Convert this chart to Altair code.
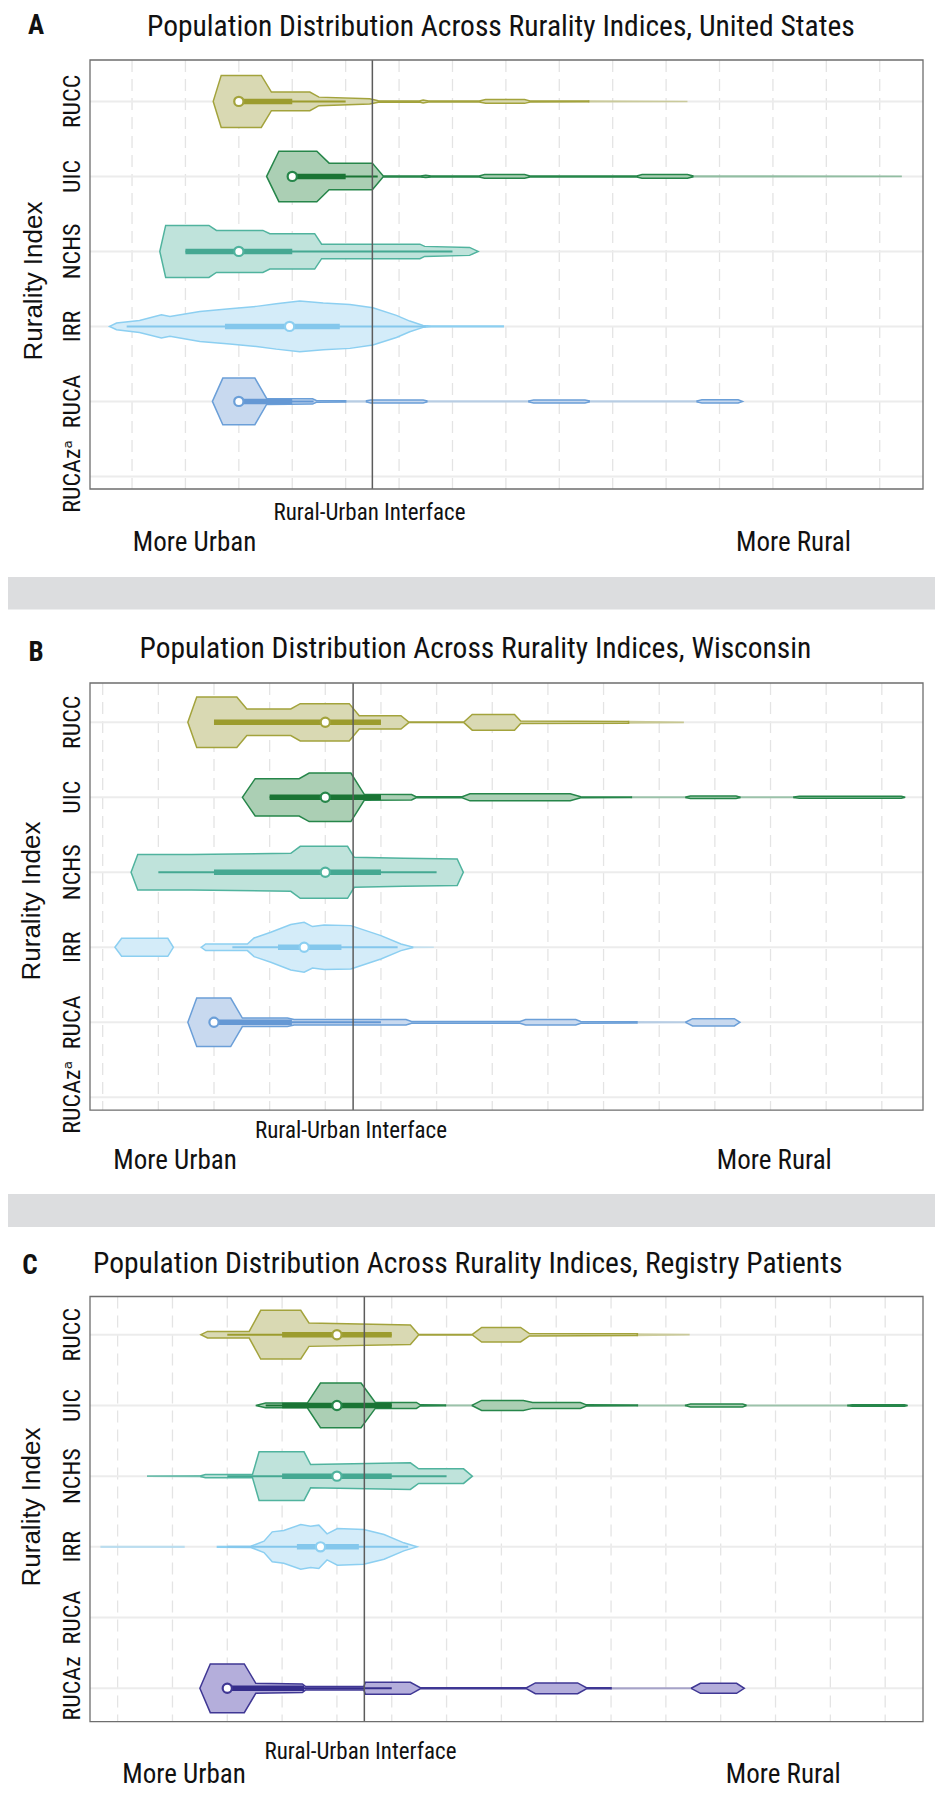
import altair as alt
import pandas as pd

INDICES = ["RUCC", "UIC", "NCHS", "IRR", "RUCA", "RUCAz"]
FILLS = ["#d9d9b3", "#abcfb4", "#bfe3db", "#d4ecf9", "#c8d9ef", "#b4aedb"]
STROKES = ["#a3a33c", "#26864a", "#50b39e", "#8ccff1", "#6b9fd8", "#3f3794"]
BOXC = ["#9c9c2e", "#1a7434", "#45a892", "#84c7ec", "#6598d4", "#352d8b"]

LABELS_AB = ["RUCC", "UIC", "NCHS", "IRR", "RUCA", "RUCAz\u1d43"]
LABELS_C = ["RUCC", "UIC", "NCHS", "IRR", "RUCA", "RUCAz"]

# violin outlines: index -> list of (opacity, [(x, half-width), ...]) segments
A_VIOL = {
    "RUCC": [(1, [(2.52, 0), (2.67, .347), (3.42, .347), (3.61, .124), (4.33, .124), (4.50, .057), (5.45, .036),
                  (5.61, .010), (6.38, .007), (6.45, .02), (6.55, .007), (7.5, .007), (7.62, .026), (8.35, .026),
                  (8.45, .007), (9.55, .005)]),
             (0.45, [(9.55, .005), (11.4, 0)])],
    "UIC": [(1, [(3.52, 0), (3.75, .337), (4.46, .337), (4.69, .177), (5.5, .177), (5.70, .008), (6.4, .007),
                 (6.5, .016), (6.6, .007), (7.5, .007), (7.6, .024), (8.35, .024), (8.45, .007), (10.45, .007),
                 (10.55, .024), (11.4, .024), (11.5, .006)]),
            (0.45, [(11.5, .006), (15.4, .002)])],
    "NCHS": [(1, [(1.52, 0), (1.63, .347), (2.44, .347), (2.58, .28), (3.45, .28), (3.58, .236), (4.42, .236),
                  (4.55, .097), (6.39, .097), (6.48, .067), (7.32, .053), (7.48, 0)])],
    "IRR": [(1, [(0.58, 0), (0.71, .044), (1.14, .08), (1.55, .156), (1.71, .133), (2.27, .2), (2.83, .236),
                 (3.33, .267), (3.70, .303), (4.14, .337), (4.58, .311), (5.08, .293), (5.51, .249), (5.95, .147),
                 (6.2, .071), (6.45, .013), (6.6, .006), (7.95, .004)])],
    "RUCA": [(1, [(2.505, 0), (2.70, .311), (3.30, .311), (3.52, .04), (4.38, .036), (4.45, .012), (5.0, .008)]),
             (0.4, [(5.0, .006), (5.39, .006)]),
             (1, [(5.39, .008), (5.47, .02), (6.45, .02), (6.52, .007)]),
             (0.4, [(6.52, .006), (8.43, .006)]),
             (1, [(8.43, .007), (8.52, .02), (9.48, .02), (9.56, .007)]),
             (0.4, [(9.56, .006), (11.58, .006)]),
             (1, [(11.58, .007), (11.67, .022), (12.35, .022), (12.43, 0)])],
}
B_VIOL = {
    "RUCC": [(1, [(2.53, 0), (2.69, .337), (3.41, .337), (3.59, .177), (4.38, .177), (4.55, .249), (5.43, .249),
                  (5.61, .089), (6.36, .089), (6.50, .004), (7.49, .004), (7.64, .105), (8.40, .105), (8.51, .016),
                  (10.45, .012)]),
             (0.5, [(10.45, .01), (11.43, .002)])],
    "UIC": [(1, [(3.51, 0), (3.74, .249), (4.53, .249), (4.71, .324), (5.46, .324), (5.70, .04), (6.55, .036),
                 (6.63, .007), (7.46, .007), (7.6, .047), (9.4, .047), (9.59, .007), (10.5, .004)]),
            (0.4, [(10.5, .004), (11.48, .004)]),
            (1, [(11.48, .004), (11.56, .016), (12.38, .016), (12.45, .004)]),
            (0.4, [(12.45, .004), (13.42, .004)]),
            (1, [(13.42, .004), (13.52, .013), (15.35, .013), (15.42, 0)])],
    "NCHS": [(1, [(1.51, 0), (1.63, .236), (2.59, .236), (4.38, .253), (4.55, .347), (5.40, .347), (5.52, .2),
                  (6.41, .187), (7.37, .177), (7.48, 0)])],
    "IRR": [(1, [(1.22, 0), (1.34, .12), (2.17, .12), (2.27, 0)]),
            (1, [(2.77, 0), (2.85, .044), (3.60, .044), (3.72, .124), (4.02, .2), (4.38, .303), (4.62, .333),
                 (4.77, .276), (4.98, .297), (5.46, .289), (6.0, .156), (6.36, .044), (6.57, .004)]),
            (0.4, [(6.57, .004), (6.95, 0)])],
    "RUCA": [(1, [(2.53, 0), (2.69, .324), (3.30, .324), (3.51, .057), (4.32, .057), (4.44, .036), (6.45, .036),
                  (6.55, .012), (8.5, .012), (8.6, .036), (9.5, .036), (9.59, .012), (10.6, .008)]),
             (0.4, [(10.6, .006), (11.48, .004)]),
             (1, [(11.48, .004), (11.6, .048), (12.35, .048), (12.45, 0)])],
}
C_VIOL = {
    "RUCC": [(1, [(2.52, 0), (2.64, .047), (3.40, .047), (3.61, .344), (4.34, .344), (4.49, .165), (6.34, .137),
                  (6.49, .004), (7.47, .004), (7.64, .103), (8.35, .103), (8.51, .017), (10.48, .012)]),
             (0.45, [(10.48, .01), (11.42, .002)])],
    "UIC": [(1, [(3.52, 0), (3.70, .033), (4.46, .033), (4.70, .316), (5.44, .316), (5.70, .042), (6.45, .042),
                 (6.52, .008), (6.98, .006)]),
            (0.4, [(6.98, .004), (7.47, .004)]),
            (1, [(7.47, .004), (7.64, .071), (8.40, .071), (8.57, .042), (9.44, .042), (9.55, .008), (10.48, .006)]),
            (0.4, [(10.48, .004), (11.36, .004)]),
            (1, [(11.36, .004), (11.45, .021), (12.4, .021), (12.46, .004)]),
            (0.4, [(12.46, .004), (14.32, .004)]),
            (1, [(14.32, .004), (14.4, .01), (15.35, .01), (15.41, 0)])],
    "NCHS": [(0.8, [(1.55, .002), (2.52, .006)]),
             (1, [(2.52, .006), (2.6, .024), (3.46, .024), (3.58, .344), (4.40, .344), (4.52, .165), (6.34, .188),
                  (6.49, .103), (7.31, .103), (7.47, 0)])],
    "IRR": [(0.5, [(0.70, .004), (2.21, .004)]),
            (1, [(2.82, .004), (3.43, .008), (3.67, .08), (3.82, .212), (4.03, .231), (4.34, .315), (4.52, .293),
                 (4.67, .307), (4.82, .184), (5.01, .259), (5.49, .245), (5.86, .174), (6.22, .057), (6.46, 0)])],
    "RUCAz": [(1, [(2.50, 0), (2.69, .344), (3.31, .344), (3.52, .071), (4.37, .061), (4.43, .024), (5.49, .024),
                   (5.52, .085), (6.34, .085), (6.52, .008), (8.46, .008), (8.62, .076), (9.39, .076), (9.55, .008),
                   (10.0, .008)]),
              (0.4, [(10.0, .006), (11.47, .004)]),
              (1, [(11.47, .004), (11.63, .071), (12.29, .071), (12.43, 0)])],
}

# box summaries: index -> (q1, q3, median, whisker low, whisker high)
A_BOX = {"RUCC": (3.0, 4.0, 3.0, 3.0, 5.0), "UIC": (4.0, 5.0, 4.0, 4.0, 5.6), "NCHS": (2.0, 4.0, 3.0, 2.0, 7.0),
         "IRR": (2.74, 4.89, 3.95, 0.9, 6.5), "RUCA": (3.0, 4.0, 3.0, 3.0, 4.4)}
B_BOX = {"RUCC": (3.0, 6.0, 5.0, 3.0, 6.0), "UIC": (4.0, 6.0, 5.0, 4.0, 6.0), "NCHS": (3.0, 6.0, 5.0, 2.0, 7.0),
         "IRR": (4.15, 5.29, 4.62, 3.33, 6.3), "RUCA": (3.0, 4.4, 3.0, 3.0, 6.0)}
C_BOX = {"RUCC": (4.0, 6.0, 5.0, 3.0, 6.0), "UIC": (4.0, 6.0, 5.0, 3.7, 6.0), "NCHS": (4.0, 6.0, 5.0, 3.0, 7.0),
         "IRR": (4.27, 5.40, 4.70, 3.0, 6.3), "RUCAz": (3.0, 4.4, 3.0, 3.0, 6.0)}

GRID_X = list(range(1, 16))
INTERFACE = 5.5

TITLE_FONT = "Roboto Condensed, DejaVu Sans Condensed, Liberation Sans Narrow, sans-serif"
LABEL_FONT = "Liberation Sans, Arial, sans-serif"
ONE = pd.DataFrame({"k": [0]})
W, H = 833, 1662
PAD = {"top": 52, "bottom": 68, "left": 82, "right": 12}


def violin_df(viol):
    rows = []
    for name, segs in viol.items():
        r = INDICES.index(name)
        for si, (op, pts) in enumerate(segs):
            for x, w in pts:
                rows.append(dict(index=name, row=r, seg=f"{name}-{si}", x=x, lo=r - w, hi=r + w, op=op,
                                 fillc=FILLS[r], strokec=STROKES[r]))
    return pd.DataFrame(rows)


def box_df(box):
    rows = []
    for name, (q1, q3, med, wlo, whi) in box.items():
        r = INDICES.index(name)
        rows.append(dict(index=name, row=r, q1=q1, q3=q3, med=med, wlo=wlo, whi=whi,
                         boxc=BOXC[r], strokec=STROKES[r]))
    return pd.DataFrame(rows)


def text(s, x, y, size, font=TITLE_FONT, weight="normal", align="center", angle=0):
    return alt.Chart(ONE).mark_text(text=s, font=font, fontSize=size, fontWeight=weight, align=align,
                                    baseline="alphabetic", color="#111111", angle=angle).encode(
        x=alt.value(x), y=alt.value(y))


def rect(x1, x2, y1, y2, color):
    return alt.Chart(ONE).mark_rect(color=color).encode(
        x=alt.value(x1), x2=alt.value(x2), y=alt.value(y1), y2=alt.value(y2))


def panel(viol, box, xd, yd, labels, row0_px, row_px):
    # y scale spans the whole drawing height; the panel occupies the part given by yd
    ys = alt.Scale(domain=[-row0_px / row_px, (H - row0_px) / row_px], reverse=True, nice=False, zero=False)
    xs = alt.Scale(domain=xd, nice=False, zero=False)

    def X(f):
        return alt.X(f, scale=xs, axis=None)

    def Y(f):
        return alt.Y(f, scale=ys, axis=None)

    vdf = violin_df(viol)
    bdf = box_df(box)
    gdf = pd.DataFrame({"g": GRID_X, "y0": yd[0], "y1": yd[1]})
    hdf = pd.DataFrame({"row": list(range(6)), "label": labels, "x0": xd[0], "x1": xd[1]})
    fdf = pd.DataFrame({"x0": [xd[0]], "x1": [xd[1]], "y0": [yd[0]], "y1": [yd[1]], "xi": [INTERFACE]})

    vgrid = alt.Chart(gdf).mark_rule(strokeDash=[12, 7], color="#e4e4e4", strokeWidth=1.3).encode(
        x=X("g:Q"), y=Y("y0:Q"), y2="y1:Q")
    hgrid = alt.Chart(hdf).mark_rule(color="#ececec", strokeWidth=2).encode(
        x=X("x0:Q"), x2="x1:Q", y=Y("row:Q"))
    area = alt.Chart(vdf).mark_area(strokeWidth=1.5, interpolate="linear").encode(
        x=X("x:Q"), y=Y("lo:Q"), y2="hi:Q",
        fill=alt.Fill("fillc:N", scale=None),
        stroke=alt.Stroke("strokec:N", scale=None),
        opacity=alt.Opacity("op:Q", scale=None),
        detail="seg:N")
    whisk = alt.Chart(bdf).mark_rule(strokeWidth=2).encode(
        x=X("wlo:Q"), x2="whi:Q", y=Y("row:Q"), color=alt.Color("boxc:N", scale=None))
    boxr = alt.Chart(bdf).mark_rule(strokeWidth=5.5).encode(
        x=X("q1:Q"), x2="q3:Q", y=Y("row:Q"), color=alt.Color("boxc:N", scale=None))
    med = alt.Chart(bdf).mark_point(filled=True, fill="white", size=85, strokeWidth=2.2, opacity=1).encode(
        x=X("med:Q"), y=Y("row:Q"), stroke=alt.Stroke("strokec:N", scale=None))
    iface = alt.Chart(fdf).mark_rule(color="#5c5c5c", strokeWidth=1.5).encode(
        x=X("xi:Q"), y=Y("y0:Q"), y2="y1:Q")
    frame = alt.Chart(fdf).mark_rect(fillOpacity=0, stroke="#6e6e6e", strokeWidth=1.3).encode(
        x=X("x0:Q"), x2="x1:Q", y=Y("y0:Q"), y2="y1:Q")
    ylab = alt.Chart(hdf).mark_text(angle=270, align="center", baseline="alphabetic", font=TITLE_FONT,
                                    fontSize=24, color="#111111").encode(
        x=alt.value(-10.5), y=Y("row:Q"), text="label:N")
    return alt.layer(vgrid, hgrid, area, whisk, boxr, med, iface, frame, ylab)


pA = panel(A_VIOL, A_BOX, [0.213, 15.81], [-0.552, 5.168], LABELS_AB, 41.4, 75.0)
pB = panel(B_VIOL, B_BOX, [0.772, 15.74], [-0.524, 5.17], LABELS_AB, 662.3, 75.0)
pC = panel(C_VIOL, C_BOX, [0.496, 15.69], [-0.54, 5.47], LABELS_C, 1274.7, 70.72)

TITLES = ["Population Distribution Across Rurality Indices, United States",
          "Population Distribution Across Rurality Indices, Wisconsin",
          "Population Distribution Across Rurality Indices, Registry Patients"]

texts = [
    text("A", -54, -26, 27, weight="bold"),
    text(TITLES[0], 57, -24.5, 29.5, align="left"),
    text("Rural-Urban Interface", 279.5, 460, 23),
    text("More Urban", 104.5, 491, 27),
    text("More Rural", 703.5, 491, 27),
    text("Rurality Index", -48.5, 221, 26, font=LABEL_FONT, angle=270),

    text("B", -54, 601, 27, weight="bold"),
    text(TITLES[1], 49.5, 598, 29.5, align="left"),
    text("Rural-Urban Interface", 261, 1077.5, 23),
    text("More Urban", 85, 1109, 27),
    text("More Rural", 684.3, 1109, 27),
    text("Rurality Index", -50, 841, 26, font=LABEL_FONT, angle=270),

    text("C", -60, 1213.5, 27, weight="bold"),
    text(TITLES[2], 3, 1212.7, 29.5, align="left"),
    text("Rural-Urban Interface", 270.5, 1698.7, 23),
    text("More Urban", 94, 1723, 27),
    text("More Rural", 693.3, 1723, 27),
    text("Rurality Index", -50, 1447, 26, font=LABEL_FONT, angle=270),
]

band1 = rect(-PAD["left"], W + PAD["right"], 517, 549.5, "#dcdddf")
band2 = rect(-PAD["left"], W + PAD["right"], 1134, 1167, "#dcdddf")

chart = alt.layer(band1, band2, pA, pB, pC, *texts).resolve_scale(
    x="independent", y="independent"
).properties(
    width=W, height=H, background="white",
    autosize=alt.AutoSizeParams(type="none"),
    padding=PAD,
).configure_view(stroke=None)

chart.save("out.html", embed_options={"renderer": "svg", "actions": False})
